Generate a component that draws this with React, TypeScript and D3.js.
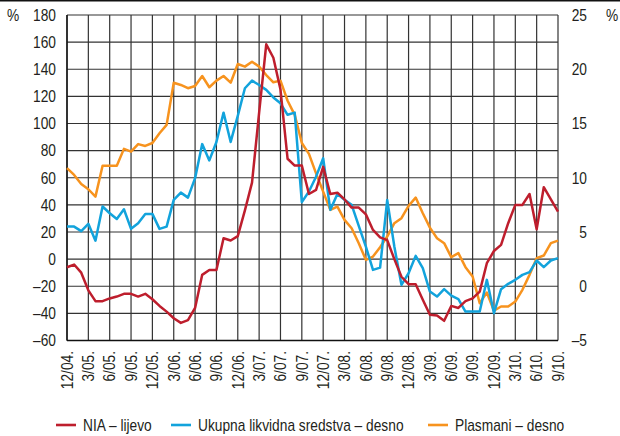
import React from 'react';
import { scaleLinear, line, range } from 'd3';

// quarterly tick labels, the series are monthly (3 points per label step)
const quarterLabels = [
  '12/04.', '3/05.', '6/05.', '9/05.', '12/05.', '3/06.', '6/06.', '9/06.',
  '12/06.', '3/07.', '6/07.', '9/07.', '12/07.', '3/08.', '6/08.', '9/08.',
  '12/08.', '3/09.', '6/09.', '9/09.', '12/09.', '3/10.', '6/10.', '9/10.',
];

// NIA, left axis (%)
const nia = [
  -6, -4, -10, -23, -31, -31, -29, -27.6, -25.6, -25.6, -27.6, -25.6,
  -29.6, -34.5, -38.7, -43.6, -47, -45, -36, -11.6, -8, -8, 15.4, 13.7,
  17, 36, 56.4, 108, 158.4, 148.5, 125, 74, 69, 69, 48, 51,
  68, 48, 49, 44, 38, 38, 33, 21.5, 16, 14, 0, -13,
  -18.5, -18.5, -30, -41, -41.5, -45.5, -34.5, -36, -31, -29, -24, -3,
  6, 10.5, 26.5, 40, 40, 48, 22, 53, 44, 35,
];

// Ukupna likvidna sredstva, right axis (%)
const likvidna = [
  5.5, 5.5, 5.08, 5.75, 4.2, 7.35, 6.73, 6.2, 7.1, 5.29, 5.8, 6.67,
  6.67, 5.29, 5.5, 7.96, 8.63, 8.17, 9.96, 13.1, 11.6, 13.3, 16.0, 13.3,
  15.7, 18.25, 18.95, 18.55, 18.1, 17.4, 16.86, 15.8, 16.0, 7.75, 8.73, 10.1,
  11.8, 7.04, 8.5, 7.96, 7.5, 5.56, 3.66, 1.51, 1.72, 7.96, 3.66, 0.13,
  1.2, 2.8, 1.67, -0.49, -0.95, -0.27, -0.86, -1.19, -2.33, -2.33, -2.33, 0.59,
  -2.48, -0.27, 0.22, 0.59, 1.05, 1.3, 2.37, 1.76, 2.37, 2.59,
];

// Plasmani, right axis (%)
const plasmani = [
  10.88, 10.26, 9.43, 8.94, 8.26, 11.1, 11.1, 11.1, 12.66, 12.4, 13.1, 12.93,
  13.2, 14.1, 14.87, 18.76, 18.55, 18.25, 18.46, 19.38, 18.34, 18.95, 19.38, 18.76,
  20.48, 20.24, 20.7, 20.24, 19.47, 18.8, 18.95, 17.1, 15.8, 13.2, 12.2, 10.4,
  8.72, 7.04, 7.34, 6.12, 5.35, 3.97, 2.43, 2.74, 3.6, 4.58, 5.81, 6.27,
  7.41, 8.17, 6.73, 5.4, 4.43, 3.97, 2.68, 3.05, 1.76, 0.9, -1.56, -0.58,
  -2.26, -1.87, -1.87, -1.41, -0.33, 1.05, 2.59, 2.83, 3.97, 4.21,
];

const leftTicks = [-60, -40, -20, 0, 20, 40, 60, 80, 100, 120, 140, 160, 180];
const rightTicks = [-5, 0, 5, 10, 15, 20, 25];

const legendItems = [
  { label: 'NIA – lijevo', color: '#be1e2d' },
  { label: 'Ukupna likvidna sredstva – desno', color: '#12a3dc' },
  { label: 'Plasmani – desno', color: '#f7931e' },
];

const W = 620;
const H = 436;
const FONT = '"Liberation Sans", Arial, sans-serif';
const SQUEEZE = 0.86; // fake a condensed face

const fmt = (v: number) => (v < 0 ? `–${Math.abs(v)}` : `${v}`);

// text squeezed horizontally around its anchor
function NText({ x, y, rotate = 0, anchor = 'start', children }: any) {
  return (
    <text
      transform={`translate(${x},${y}) rotate(${rotate}) scale(${SQUEEZE},1)`}
      textAnchor={anchor}
      dy="0.36em"
      fontSize={16}
      fill="#231f20"
    >
      {children}
    </text>
  );
}

export default function App() {
  const plot = { left: 67, right: 558, top: 15, bottom: 340.5 };
  const n = nia.length;

  const x = scaleLinear().domain([0, n - 1]).range([plot.left, plot.right]);
  const yL = scaleLinear().domain([-60, 180]).range([plot.bottom, plot.top]);
  const yR = scaleLinear().domain([-5, 25]).range([plot.bottom, plot.top]);

  const lineL = line<number>().x((_, i) => x(i)).y(d => yL(d));
  const lineR = line<number>().x((_, i) => x(i)).y(d => yR(d));

  const quarterIdx = range(quarterLabels.length).map(q => q * 3);
  const legendX = [56, 171, 428];

  return (
    <svg
      width={W}
      height={H}
      style={{ position: 'absolute', left: 0, top: 0, background: '#fff' }}
      fontFamily={FONT}
    >
      <line x1={0} x2={W} y1={0.75} y2={0.75} stroke="#111" strokeWidth={1.5} />

      {/* grid */}
      {leftTicks.map(t => (
        <line key={`h${t}`} x1={plot.left} x2={plot.right} y1={yL(t)} y2={yL(t)}
          stroke="#333" strokeWidth={1.2} />
      ))}
      {quarterIdx.map(i => (
        <line key={`v${i}`} x1={x(i)} x2={x(i)} y1={plot.top} y2={plot.bottom}
          stroke="#333" strokeWidth={1.2} />
      ))}
      <line x1={plot.left} x2={plot.right} y1={plot.bottom} y2={plot.bottom} stroke="#111" strokeWidth={1.6} />
      <line x1={plot.left} x2={plot.left} y1={plot.top} y2={plot.bottom} stroke="#111" strokeWidth={1.4} />

      {/* series */}
      <path d={lineR(plasmani) || ''} fill="none" stroke="#f7931e" strokeWidth={2.5} strokeLinejoin="round" />
      <path d={lineR(likvidna) || ''} fill="none" stroke="#12a3dc" strokeWidth={2.5} strokeLinejoin="round" />
      <path d={lineL(nia) || ''} fill="none" stroke="#be1e2d" strokeWidth={2.5} strokeLinejoin="round" />

      {/* left axis */}
      {leftTicks.map(t => (
        <NText key={`l${t}`} x={56} y={yL(t)} anchor="end">{fmt(t)}</NText>
      ))}
      <NText x={7} y={yL(180)}>%</NText>

      {/* right axis */}
      {rightTicks.map(t => (
        <NText key={`r${t}`} x={587} y={yR(t)} anchor="end">{fmt(t)}</NText>
      ))}
      <NText x={606} y={yR(25)}>%</NText>

      {/* x labels */}
      {quarterIdx.map((i, q) => (
        <NText key={`x${i}`} x={x(i)} y={351} rotate={-90} anchor="end">
          {quarterLabels[q]}
        </NText>
      ))}

      {/* legend */}
      {legendItems.map((item, k) => (
        <g key={item.label}>
          <line x1={legendX[k]} x2={legendX[k] + 20} y1={425} y2={425} stroke={item.color} strokeWidth={2.6} />
          <NText x={legendX[k] + 27} y={425}>{item.label}</NText>
        </g>
      ))}
    </svg>
  );
}
